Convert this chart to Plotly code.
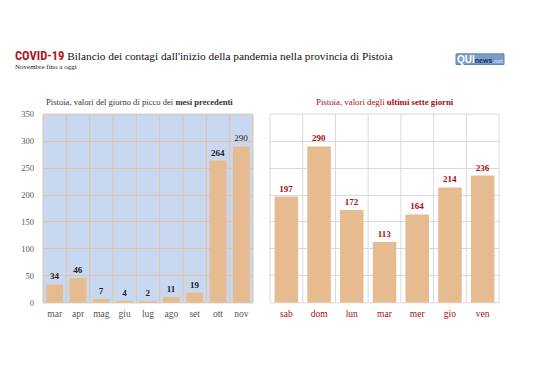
import plotly.graph_objects as go

months = ["mar", "apr", "mag", "giu", "lug", "ago", "set", "ott", "nov"]
month_vals = [34, 46, 7, 4, 2, 11, 19, 264, 290]
days = ["sab", "dom", "lun", "mar", "mer", "gio", "ven"]
day_vals = [197, 290, 172, 113, 164, 214, 236]
y_ticks = [0, 50, 100, 150, 200, 250, 300, 350]

# page body has an 8px margin; figure is sized so the page fits the window exactly
OFF = 8
W, H = 538 - 2 * OFF, 380 - 2 * OFF
SERIF = "Liberation Serif"
BAR = "#e6bb90"
RED = "#a50d12"

def px(x): return (x - OFF) / W
def py(y): return 1 - (y - OFF) / H

fig = go.Figure()

label_bold = [True] * (len(month_vals) - 1) + [False]
fig.add_trace(go.Bar(
    x=months, y=month_vals, xaxis="x", yaxis="y",
    marker=dict(color=BAR, line=dict(width=0)),
    text=[f"<b>{v}</b>" if b else str(v) for v, b in zip(month_vals, label_bold)],
    textposition="outside", cliponaxis=False,
    textfont=dict(family=SERIF, size=9, color="#222222"),
    hoverinfo="skip",
))
fig.add_trace(go.Bar(
    x=days, y=day_vals, xaxis="x2", yaxis="y2",
    marker=dict(color=BAR, line=dict(width=0)),
    text=[f"<b>{v}</b>" for v in day_vals],
    textposition="outside", cliponaxis=False,
    textfont=dict(family=SERIF, size=9, color=RED),
    hoverinfo="skip",
))

shapes = []
shapes.append(dict(type="rect", xref="x domain", yref="y domain", x0=0, x1=1, y0=0, y1=1,
                   fillcolor="#c9d8f1", line=dict(color="#d8c3a8", width=1), layer="below"))
for i in range(len(months) - 1):
    shapes.append(dict(type="line", xref="x", yref="y domain", x0=i + 0.5, x1=i + 0.5, y0=0, y1=1,
                       line=dict(color="#e2c3a0", width=1), layer="below"))
shapes.append(dict(type="rect", xref="x2 domain", yref="y2 domain", x0=0, x1=1, y0=0, y1=1,
                   fillcolor="rgba(0,0,0,0)", line=dict(color="#d9d9d9", width=1), layer="below"))
for i in range(len(days) - 1):
    shapes.append(dict(type="line", xref="x2", yref="y2 domain", x0=i + 0.5, x1=i + 0.5, y0=0, y1=1,
                       line=dict(color="#d9d9d9", width=1), layer="below"))
shapes.append(dict(type="rect", xref="paper", yref="paper", x0=px(456), x1=px(504), y0=py(61), y1=py(50),
                   fillcolor="#7d9bc9", line=dict(color="#6282b5", width=1)))

annotations = [
    dict(x=px(13), y=py(52), xref="paper", yref="paper", xanchor="left", yanchor="middle", showarrow=False,
         text="<span style='font-family:Liberation Sans Narrow, Roboto Condensed, Liberation Sans;color:#b0141a;font-size:12.5px'><b>COVID-19</b></span> Bilancio dei contagi dall'inizio della pandemia nella provincia di Pistoia",
         font=dict(family=SERIF, size=11.3, color="#111111")),
    dict(x=px(13), y=py(64), xref="paper", yref="paper", xanchor="left", yanchor="middle", showarrow=False,
         text="Novembre fino a oggi", font=dict(family=SERIF, size=7, color="#222222")),
    dict(x=px(139), y=py(99), xref="paper", yref="paper", xanchor="center", yanchor="middle", showarrow=False,
         text="Pistoia, valori del giorno di picco dei <b>mesi precedenti</b>",
         font=dict(family=SERIF, size=8.6, color="#333333")),
    dict(x=px(385), y=py(99), xref="paper", yref="paper", xanchor="center", yanchor="middle", showarrow=False,
         text="Pistoia, valori degli <b>ultimi sette giorni</b>",
         font=dict(family=SERIF, size=8.8, color=RED)),
    dict(x=px(480), y=py(55.5), xref="paper", yref="paper", xanchor="center", yanchor="middle", showarrow=False,
         text="<b><span style='color:white'>QUI</span><span style='font-size:7px;color:#1c2e5a'>news</span><span style='font-size:6px;color:#c8d6ee'>.net</span></b>",
         font=dict(family="Liberation Sans", size=10)),
]

fig.update_layout(
    width=W, height=H, margin=dict(l=0, r=0, t=0, b=0),
    paper_bgcolor="white", plot_bgcolor="rgba(0,0,0,0)",
    showlegend=False, bargap=0.28,
    shapes=shapes, annotations=annotations,
    xaxis=dict(domain=[px(43), px(253)], type="category", showgrid=False, zeroline=False,
               showline=False, ticks="", ticklabelstandoff=4,
               tickfont=dict(family=SERIF, size=9.5, color="#555555"), fixedrange=True),
    yaxis=dict(domain=[py(306), py(112)], range=[0, 350], tickvals=y_ticks, showgrid=True,
               gridcolor="#e2c3a0", gridwidth=1, zeroline=False, showline=False, ticks="",
               ticklabelstandoff=8,
               tickfont=dict(family=SERIF, size=8.5, color="#555555"), fixedrange=True),
    xaxis2=dict(domain=[px(270), px(499)], type="category", anchor="y2", showgrid=False, zeroline=False,
                showline=False, ticks="", ticklabelstandoff=4,
                tickfont=dict(family=SERIF, size=9.5, color=RED), fixedrange=True),
    yaxis2=dict(domain=[py(306), py(112)], range=[0, 350], tickvals=y_ticks, anchor="x2",
                showticklabels=False, showgrid=True, gridcolor="#d9d9d9", gridwidth=1,
                zeroline=False, showline=False, ticks="", fixedrange=True),
)

fig.write_html("out.html")
